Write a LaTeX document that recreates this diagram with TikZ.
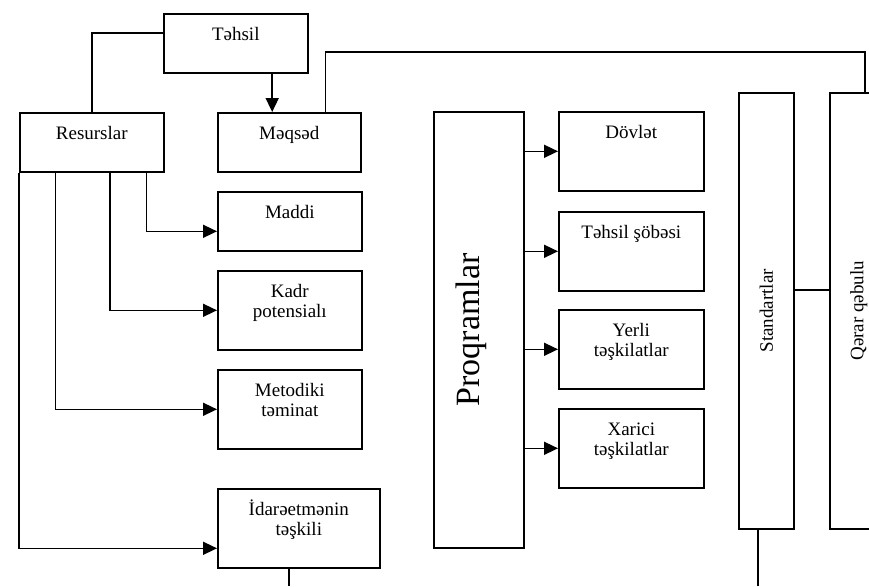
\documentclass[tikz,border=0pt]{standalone}
\usepackage{fontspec}
\setmainfont{Liberation Serif}
\usetikzlibrary{positioning, arrows.meta, calc}

\begin{document}
\begin{tikzpicture}[x=1pt, y=-1pt,
    % Styles
    box/.style={draw, line width=1.6pt, align=center, inner sep=0pt, anchor=north west, font=\fontsize{19}{20}\selectfont},
    small/.style={box, minimum width=144pt, text height=27pt, text depth=32pt},
    big/.style={box, minimum width=145pt, text height=27pt, text depth=52pt},
    twoline/.style={box, minimum width=145pt, text height=47pt, text depth=32pt},
    column/.style={draw, line width=1.6pt, inner sep=0pt, anchor=north west, minimum height=436pt},
    line/.style={line width=1.6pt},
    link-arrow/.style={-{Triangle[length=14pt, width=13pt]}, line width=1.6pt},
]
\clip (0,0) rectangle (869,586);

% Top: education and its two branches
\node[small] (tehsil) at (163,13) {Təhsil};
\node[small] (resurs) at (19,112) {Resurslar};
\node[small, minimum width=143pt] (meqsed) at (217,112) {Məqsəd};

% Resources
\node[small] (maddi) at (217,191) {Maddi};
\node[twoline, minimum width=144pt] (kadr) at (217,270) {Kadr\\potensialı};
\node[twoline, minimum width=144pt] (metod) at (217,369) {Metodiki\\təminat};
\node[twoline, minimum width=162pt] (idare) at (217,488) {İdarəetmənin\\təşkili};

% Programmes
\node[column, minimum width=90pt, font=\fontsize{34}{34}\selectfont] (proq) at (433,111) {\hspace*{-14pt}\rotatebox{90}{Proqramlar}};
\node[big] (dovlet) at (558,111) {Dövlət};
\node[big] (sobe) at (558,211) {Təhsil şöbəsi};
\node[twoline] (yerli) at (558,309) {Yerli\\təşkilatlar};
\node[twoline] (xarici) at (558,408) {Xarici\\təşkilatlar};

% Standards and decisions
\node[column, minimum width=55pt, font=\fontsize{19}{19}\selectfont] (standart) at (738,92) {\rotatebox{90}{Standartlar}};
\node[column, minimum width=70pt, font=\fontsize{19}{19}\selectfont] (qerar) at (829,92) {\hspace*{-12pt}\rotatebox{90}{Qərar qəbulu}};

% Links from the top
\draw[line] ([yshift=10pt]tehsil.west) -| (resurs.north);
\coordinate (t-out) at ($(tehsil.south west)!.75!(tehsil.south east)$);
\draw[link-arrow] (t-out) -- (t-out |- meqsed.north);
\coordinate (m-out) at ($(meqsed.north west)!.75!(meqsed.north east)$);
\draw[line] (m-out) |- ($(qerar.north)+(0,-40)$) -- (qerar.north);

% Resource branches
\foreach \f/\target/\dy in {.875/maddi/-10pt, .625/kadr/0pt, .25/metod/0pt, 0/idare/-20pt}
    \draw[link-arrow] ($(resurs.south west)!\f!(resurs.south east)$) |- ([yshift=\dy]\target.west);

% Programme branches
\foreach \target in {dovlet, sobe, yerli, xarici}
    \draw[link-arrow] (proq.east |- \target.west) -- (\target.west);

% Standards to decisions
\draw[line] ([yshift=21pt]standart.east) -- ([yshift=21pt]qerar.west);

% Exits at the bottom
\coordinate (bottom) at (0,586);
\coordinate (i-out) at ($(idare.south west)!.44!(idare.south east)$);
\draw[line] (i-out) -- (i-out |- bottom);
\coordinate (s-out) at ($(standart.south west)!.35!(standart.south east)$);
\draw[line] (s-out) -- (s-out |- bottom);

\end{tikzpicture}
\end{document}
